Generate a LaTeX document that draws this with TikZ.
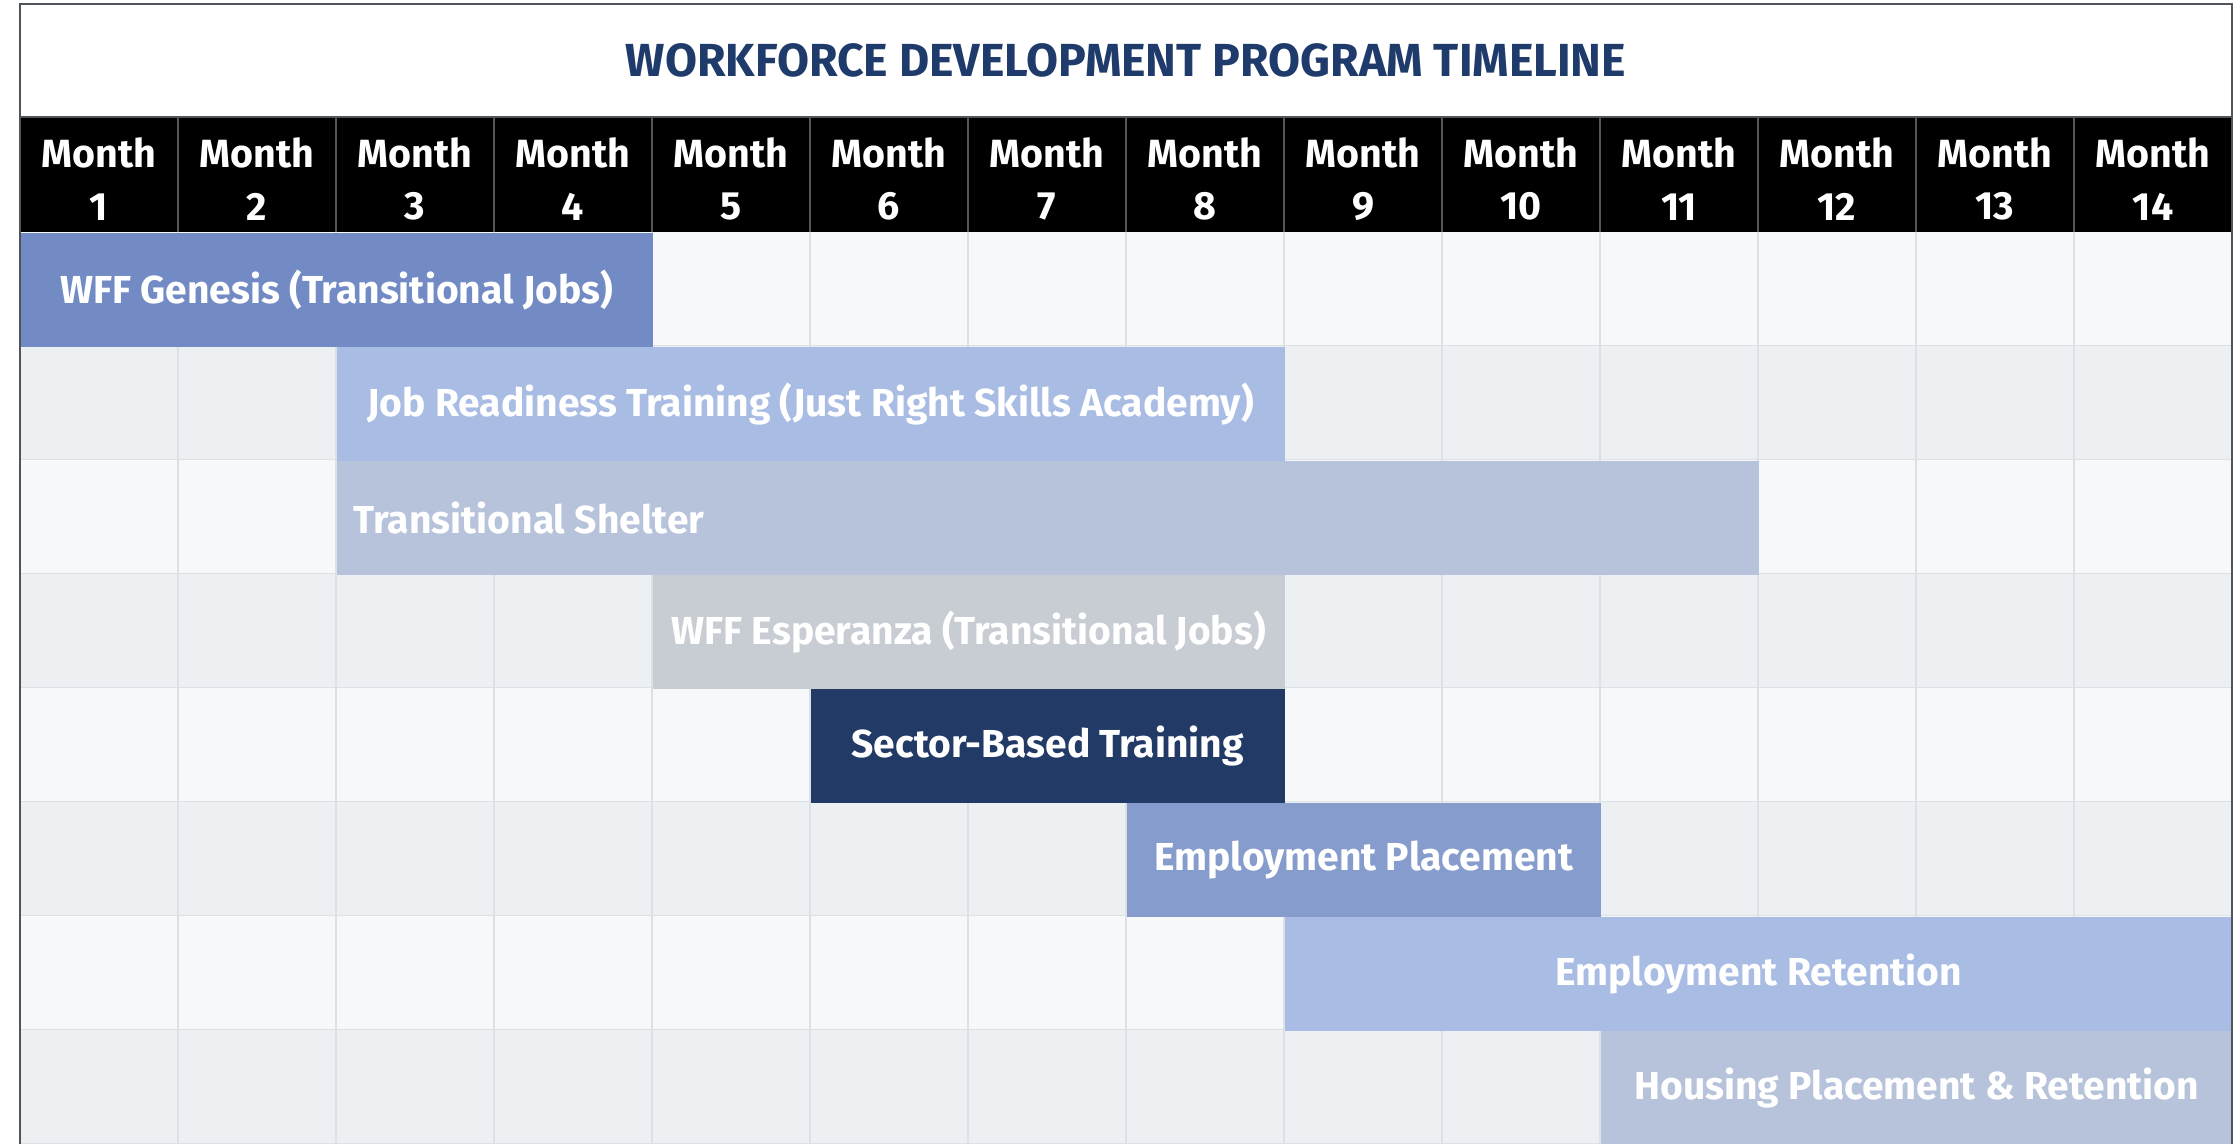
\documentclass[tikz,border=0pt]{standalone}
\usepackage{fontspec}
\setmainfont{Fira Sans}
\usetikzlibrary{positioning}

\definecolor{titleblue}{HTML}{1F3B6B}
\definecolor{framegray}{HTML}{50555C}
\definecolor{gridgray}{HTML}{DDE1E6}
\definecolor{rowlight}{HTML}{F7F8FA}
\definecolor{rowdark}{HTML}{EDF0F3}
\definecolor{genesisblue}{HTML}{728BC4}
\definecolor{readinessblue}{HTML}{A9BCE3}
\definecolor{shelterblue}{HTML}{B7C3DB}
\definecolor{esperanzagray}{HTML}{C8CDD3}
\definecolor{sectornavy}{HTML}{213A66}
\definecolor{placementblue}{HTML}{869CCD}

\begin{document}
\begin{tikzpicture}[
  every node/.style={
    inner sep=0pt,
    text=white,
    font=\bfseries\fontsize{11.1}{15}\selectfont,
  },
  bar/.style={
    rectangle,
    anchor=north west,
    minimum height=1.14cm,
  },
  month/.style={
    align=center,
    minimum width=1.58cm,
    minimum height=1.15cm,
    font=\bfseries\fontsize{11.2}{15}\selectfont,
  }
]
\useasboundingbox (0,0) rectangle (22.35,-11.43);
\fill[white] (0.20,-0.04) rectangle (22.32,-1.17);

% rows of the chart
\foreach \r in {1,...,8} {
  \pgfmathsetmacro{\top}{-2.32-1.14*(\r-1)}
  \ifodd\r
    \fill[rowlight] (0.20,\top) rectangle (22.32,\top-1.14);
  \else
    \fill[rowdark] (0.20,\top) rectangle (22.32,\top-1.14);
  \fi
  \draw[gridgray,line width=0.6pt] (0.20,\top-1.14) -- (22.32,\top-1.14);
}
\foreach \c in {1,...,13}
  \draw[gridgray,line width=0.6pt] ({0.20+1.58*\c},-2.32) -- ({0.20+1.58*\c},-11.6);

% header
\fill[black] (0.20,-1.17) rectangle (22.32,-2.32);
\foreach \c in {1,...,13}
  \draw[framegray,line width=0.5pt] ({0.20+1.58*\c},-1.17) -- ({0.20+1.58*\c},-2.32);
\foreach \m in {1,...,14}
  \node[month] (month\m) at ({0.20+1.58*(\m-0.5)},-1.79) {Month\\\m};

\node[text=titleblue,font=\bfseries\fontsize{13.2}{16}\selectfont] at (11.26,-0.60) (title) {WORKFORCE DEVELOPMENT PROGRAM TIMELINE};

% bars
\node[bar,fill=genesisblue,minimum width=6.32cm] at (0.20,-2.32) (genesis) {WFF Genesis (Transitional Jobs)};
\node[bar,fill=readinessblue,minimum width=9.48cm] at (3.36,-3.46) (readiness) {Job Readiness Training (Just Right Skills Academy)};
\node[bar,fill=shelterblue,text width=13.88cm,inner xsep=0.17cm,align=flush left] at (3.36,-4.60) (shelter) {Transitional Shelter};
\node[bar,fill=esperanzagray,minimum width=6.32cm] at (6.52,-5.74) (esperanza) {WFF Esperanza (Transitional Jobs)};
\node[bar,fill=sectornavy,minimum width=4.74cm] at (8.10,-6.88) (sector) {Sector-Based Training};
\node[bar,fill=placementblue,minimum width=4.74cm] at (11.26,-8.02) (placement) {Employment Placement};
\node[bar,fill=readinessblue,minimum width=9.48cm] at (12.84,-9.16) (retention) {Employment Retention};
\node[bar,fill=shelterblue,minimum width=6.32cm] at (16.00,-10.30) (housing) {Housing Placement \& Retention};

% frame
\draw[framegray,line width=0.8pt] (0.20,-11.6) -- (0.20,-0.04) -- (22.32,-0.04) -- (22.32,-11.6);
\draw[framegray,line width=0.6pt] (0.20,-1.17) -- (22.32,-1.17);
\end{tikzpicture}
\end{document}
